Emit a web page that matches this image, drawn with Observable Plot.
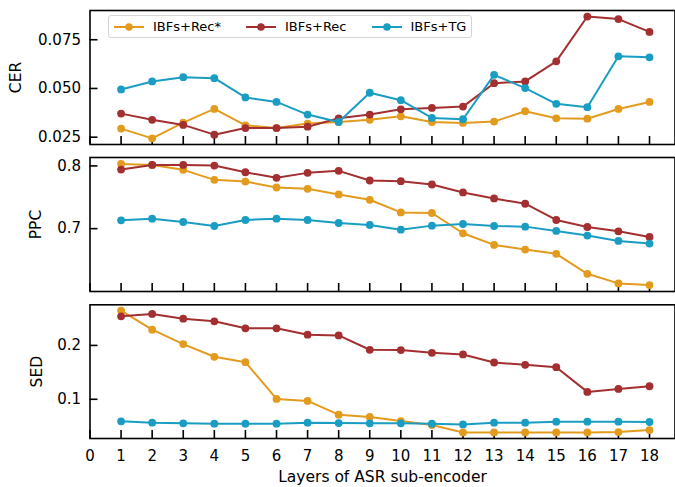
<!DOCTYPE html>
<html>
<head>
<meta charset="utf-8">
<script src="https://cdn.jsdelivr.net/npm/d3@7"></script>
<script src="https://cdn.jsdelivr.net/npm/@observablehq/plot@0.6"></script>
<style>
  body { margin: 0; background: #fff; }
  #chart { position: relative; width: 675px; height: 487px; font-family: "DejaVu Sans", sans-serif; overflow: hidden; }
  #chart .panel { position: absolute; left: 0; }
  .legend { position: absolute; left: 108px; top: 15px; height: 23px; box-sizing: border-box;
    border: 1px solid #d4d4d4; border-radius: 3px; background: rgba(255,255,255,0.85);
    display: flex; align-items: center; padding: 0 5px; font-size: 13px; color: #000; }
  .legend .item { display: flex; align-items: center; margin-right: 25px; }
  .legend .item:last-child { margin-right: 0; }
  .legend svg { margin-right: 9px; display: block; }
</style>
</head>
<body>
<div id="chart"></div>
<script>
// ---- data ----
const layers = [1, 2, 3, 4, 5, 6, 7, 8, 9, 10, 11, 12, 13, 14, 15, 16, 17, 18];
const xTickValues = [0, 1, 2, 3, 4, 5, 6, 7, 8, 9, 10, 11, 12, 13, 14, 15, 16, 17, 18];
const seriesNames = ["IBFs+Rec*", "IBFs+Rec", "IBFs+TG"];
const seriesColors = ["#E39B1E", "#A32F31", "#1A9DC3"];

const cerRecStar = [0.0294, 0.0244, 0.0325, 0.0395, 0.0311, 0.0297, 0.0320, 0.0328, 0.0339, 0.0357, 0.0328, 0.0323, 0.0330, 0.0383, 0.0347, 0.0345, 0.0395, 0.0431];
const cerRec     = [0.0371, 0.0339, 0.0313, 0.0263, 0.0297, 0.0297, 0.0304, 0.0347, 0.0366, 0.0393, 0.0400, 0.0407, 0.0527, 0.0536, 0.0639, 0.0869, 0.0856, 0.0790];
const cerTG      = [0.0495, 0.0536, 0.0558, 0.0553, 0.0454, 0.0431, 0.0366, 0.0328, 0.0478, 0.0440, 0.0349, 0.0342, 0.0570, 0.0502, 0.0421, 0.0404, 0.0665, 0.0660];

const ppcRecStar = [0.8032, 0.8016, 0.7937, 0.7778, 0.7751, 0.7656, 0.7635, 0.7545, 0.7460, 0.7259, 0.7249, 0.6926, 0.6741, 0.6667, 0.6598, 0.6280, 0.6127, 0.6101];
const ppcRec     = [0.7942, 0.8016, 0.8016, 0.8005, 0.7899, 0.7810, 0.7889, 0.7921, 0.7767, 0.7757, 0.7704, 0.7577, 0.7481, 0.7397, 0.7138, 0.7026, 0.6958, 0.6868];
const ppcTG      = [0.7132, 0.7159, 0.7106, 0.7042, 0.7138, 0.7159, 0.7138, 0.7090, 0.7058, 0.6984, 0.7048, 0.7074, 0.7042, 0.7032, 0.6963, 0.6889, 0.6804, 0.6762];

const sedRecStar = [0.2646, 0.2292, 0.2025, 0.1789, 0.1689, 0.1006, 0.0969, 0.0714, 0.0671, 0.0596, 0.0522, 0.0385, 0.0385, 0.0385, 0.0385, 0.0385, 0.0391, 0.0429];
const sedRec     = [0.2540, 0.2584, 0.2497, 0.2447, 0.2317, 0.2317, 0.2199, 0.2186, 0.1919, 0.1913, 0.1863, 0.1832, 0.1683, 0.1640, 0.1596, 0.1137, 0.1193, 0.1242];
const sedTG      = [0.0590, 0.0565, 0.0553, 0.0547, 0.0547, 0.0547, 0.0565, 0.0559, 0.0553, 0.0553, 0.0547, 0.0534, 0.0565, 0.0565, 0.0584, 0.0584, 0.0584, 0.0578];

const cerTicks = [0.025, 0.050, 0.075];
const ppcTicks = [0.7, 0.8];
const sedTicks = [0.1, 0.2];
const xTitle = "Layers of ASR sub-encoder";

// ---- layout ----
const W = 675, ML = 89.5, MR = 0.5;
const FONT = "DejaVu Sans, sans-serif";
const TICK_FS = 15;
const LABEL_FS = 15.5;
const chart = document.getElementById("chart");

function panel({values, domain, ticks, fmt, label, labelDx, top, height, mt, mb, showX}) {
  const plotW = W - ML - MR;
  const plotH = height - mt - mb;
  const marks = [
    Plot.tickY(ticks, {y: d => d, insetRight: plotW - 8, stroke: "black", strokeWidth: 1.6}),
    Plot.tickX(xTickValues, {x: d => d, insetTop: plotH - 8, stroke: "black", strokeWidth: 1.6}),
    Plot.axisY(ticks, {tickSize: 0, tickPadding: 9, tickFormat: fmt, label: null, fontSize: TICK_FS, fill: "black"}),
    Plot.text([label], {frameAnchor: "left", dx: labelDx, rotate: -90, fontSize: LABEL_FS, fill: "black", textAnchor: "middle"})
  ];
  if (showX) {
    marks.push(Plot.axisX(xTickValues, {tickSize: 0, tickPadding: 11.5, tickFormat: d => String(d), label: null, fontSize: TICK_FS, fill: "black"}));
    marks.push(Plot.text([xTitle], {frameAnchor: "bottom", dy: 39, fontSize: LABEL_FS, fill: "black", lineAnchor: "middle"}));
  }
  seriesNames.forEach((name, i) => {
    const rows = layers.map((l, j) => ({layer: l, value: values[i][j], series: name}));
    marks.push(Plot.line(rows, {x: "layer", y: "value", stroke: seriesColors[i], strokeWidth: 2}));
    marks.push(Plot.dot(rows, {x: "layer", y: "value", fill: seriesColors[i], r: 3.9, stroke: "none"}));
  });
  marks.push(Plot.frame({stroke: "black", strokeWidth: 1.6}));
  const svg = Plot.plot({
    width: W, height,
    marginLeft: ML, marginRight: MR, marginTop: mt, marginBottom: mb,
    style: {fontFamily: FONT, fontSize: TICK_FS + "px", background: "transparent", overflow: "visible"},
    x: {domain: [0, 18.82], axis: null},
    y: {domain, axis: null},
    marks
  });
  svg.classList.add("panel");
  svg.style.top = top + "px";
  chart.appendChild(svg);
}

panel({values: [cerRecStar, cerRec, cerTG], domain: [0.02125, 0.0900], ticks: cerTicks, fmt: d3.format(".3f"),
  label: "CER", labelDx: -73.5, top: 0, height: 150, mt: 10, mb: 6, showX: false});
panel({values: [ppcRecStar, ppcRec, ppcTG], domain: [0.5998, 0.8134], ticks: ppcTicks, fmt: d3.format(".1f"),
  label: "PPC", labelDx: -53.5, top: 150, height: 147, mt: 7, mb: 6, showX: false});
panel({values: [sedRecStar, sedRec, sedTG], domain: [0.0272, 0.2754], ticks: sedTicks, fmt: d3.format(".1f"),
  label: "SED", labelDx: -52.5, top: 297, height: 190, mt: 7.3, mb: 49, showX: true});

// ---- legend ----
const legend = d3.select(chart).append("div").attr("class", "legend");
seriesNames.forEach((name, i) => {
  const item = legend.append("div").attr("class", "item");
  const s = item.append("svg").attr("width", 30).attr("height", 10);
  s.append("line").attr("x1", 0).attr("x2", 30).attr("y1", 5).attr("y2", 5)
    .attr("stroke", seriesColors[i]).attr("stroke-width", 2);
  s.append("circle").attr("cx", 15).attr("cy", 5).attr("r", 3.8).attr("fill", seriesColors[i]);
  item.append("span").text(name);
});
</script>
</body>
</html>
